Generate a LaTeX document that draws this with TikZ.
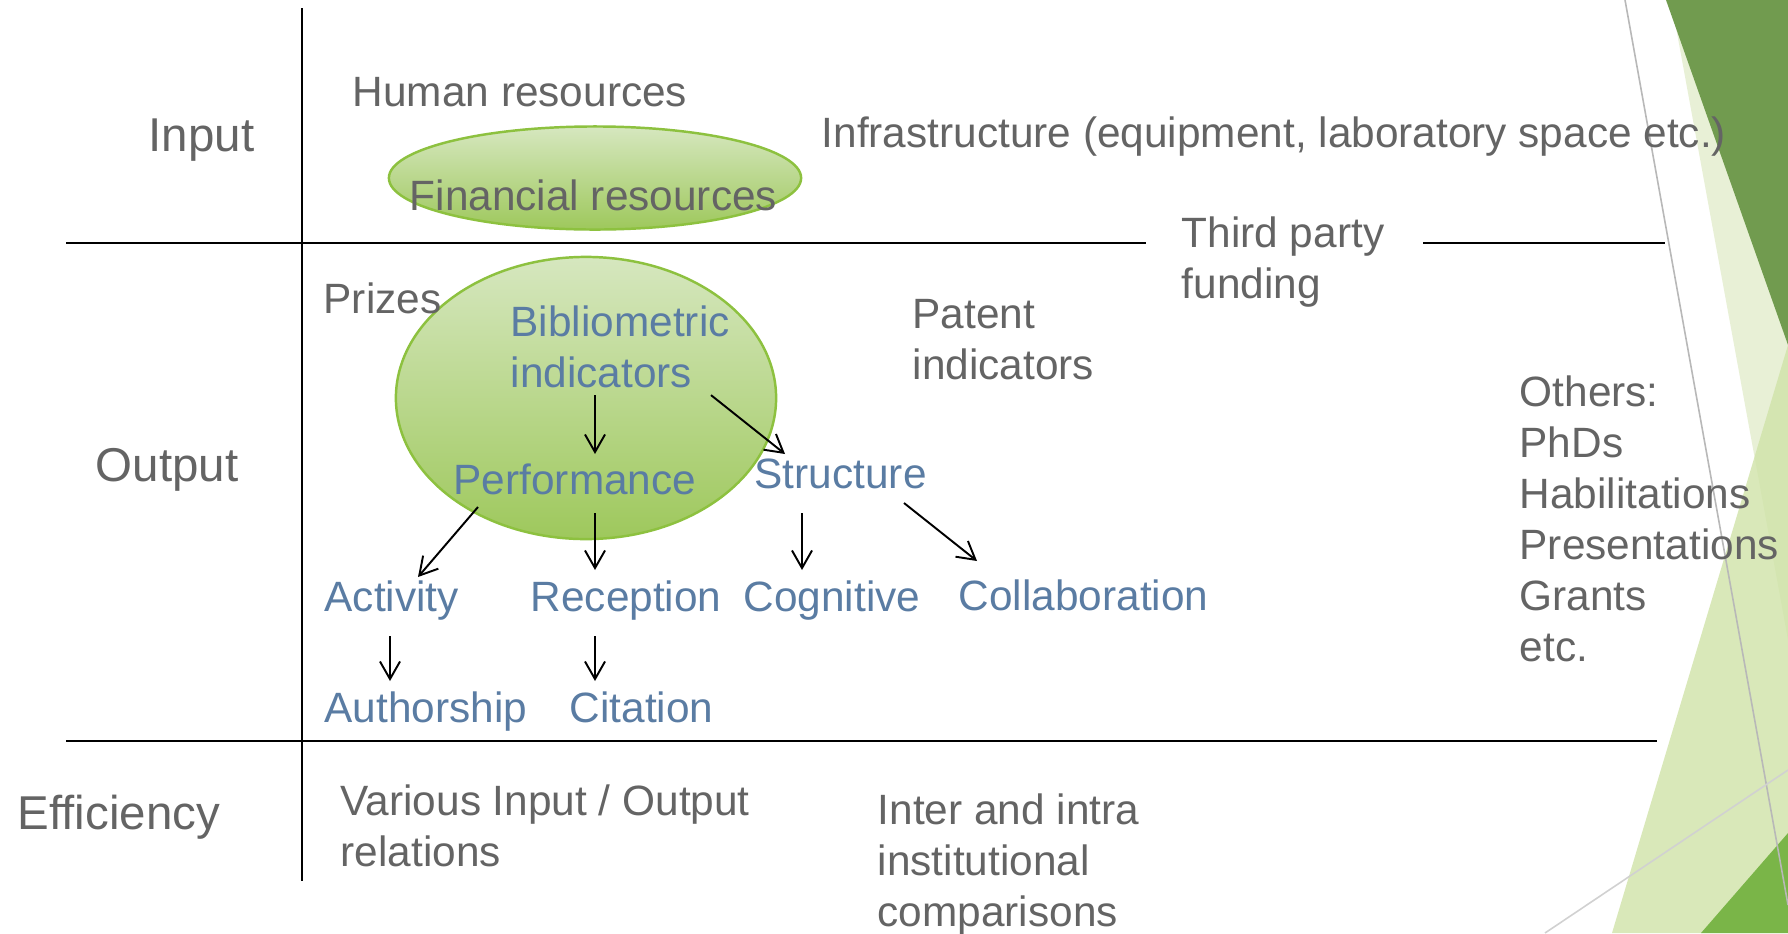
\documentclass[tikz,border=0pt]{standalone}
\usepackage{fontspec}
\setmainfont{Liberation Sans}
\usetikzlibrary{arrows.meta,positioning,calc}
\definecolor{txtgray}{RGB}{100,100,100}
\definecolor{indblue}{RGB}{90,124,163}
\definecolor{leafdark}{RGB}{113,155,79}
\definecolor{leafpale}{RGB}{232,240,214}
\definecolor{leaflight}{RGB}{208,227,168}
\definecolor{leafbright}{RGB}{122,181,72}
\definecolor{blobtop}{RGB}{214,231,191}
\definecolor{blobbot}{RGB}{158,200,92}
\definecolor{blobedge}{RGB}{141,193,63}
\tikzset{
  hdr/.style={font=\fontsize{13.5}{16}\selectfont, text=txtgray, inner sep=0pt, anchor=base west},
  lbl/.style={font=\fontsize{12.05}{14.46}\selectfont, text=txtgray, inner sep=0pt, anchor=base west, align=left},
  ind/.style={lbl, text=indblue},
  arr/.style={-{Straight Barb[length=5pt,width=5.7pt]}, line width=0.55pt},
  blob/.style={draw=blobedge, line width=0.7pt, top color=blobtop, bottom color=blobbot},
  rule/.style={line width=0.6pt},
}

\begin{document}
\begin{tikzpicture}[x=0.01cm, y=-0.01cm]
\fill[white] (0,0) rectangle (1788,933);
\useasboundingbox (0,0) rectangle (1788,933);
% facet corner
\fill[leafpale] (1671,0) -- (1788,0) -- (1788,640) -- cycle;
\fill[leafdark] (1666,0) -- (1788,0) -- (1788,345) -- cycle;
\fill[leaflight, opacity=0.8] (1788,345) -- (1612,933) -- (1788,933) -- cycle;
\fill[leafbright] (1701,933) -- (1788,833) -- (1788,933) -- cycle;
\draw[black!28, line width=0.45pt] (1625,0) -- (1788,905);
\draw[black!18, line width=0.45pt] (1545,933) -- (1788,770);

% table rules
\draw[rule] (302,8) -- (302,881);
\draw[rule] (66,243) -- (1146,243);
\draw[rule] (1423,243) -- (1665,243);
\draw[rule] (66,741) -- (1657,741);

% ellipses
\path[blob] (595,178) ellipse [x radius=2.06cm, y radius=0.515cm];
\path[blob] (586,398) ellipse [x radius=1.90cm, y radius=1.41cm];

\node[hdr] (inp) at (148,151) {Input};
\node[hdr] (outp) at (95,481) {Output};
\node[hdr] (eff) at (17,829) {Efficiency};

% multi-line texts sit on their last baseline
\node[lbl] (hum) at (352,106) {Human resources};
\node[lbl] (fin) at (409,210) {Financial resources};
\node[lbl] (infra) at (821,147) {Infrastructure (equipment, laboratory space etc.)};
\node[lbl] (third) at (1181,298) {Third party\\funding};
\node[lbl] (prz) at (323,313) {Prizes};
\node[ind] (bib) at (510,387) {Bibliometric\\indicators};
\node[lbl] (pat) at (912,379) {Patent\\indicators};
\node[ind] (perf) at (453,494) {Performance};
\node[ind] (struct) at (754,488) {Structure};
\node[ind] (act) at (324,611) {Activity};
\node[ind] (rec) at (530,611) {Reception};
\node[ind] (cog) at (743,611) {Cognitive};
\node[ind] (coll) at (958,610) {Collaboration};
\node[ind] (auth) at (324,722) {Authorship};
\node[ind] (cit) at (569,722) {Citation};
\node[lbl] (oth) at (1519,661) {Others:\\PhDs\\Habilitations\\Presentations\\Grants\\etc.};
\node[lbl] (rel) at (340,866) {Various Input / Output\\relations};
\node[lbl] (cmp) at (877,926) {Inter and intra\\institutional\\comparisons};

\draw[arr] ([shift={(85,7)}]bib.south west) -- ([shift={(142,-40)}]perf.base west);
\draw[arr] ([shift={(201,7)}]bib.south west) -- ([shift={(31,-34)}]struct.base west);
\draw[arr] ([shift={(25,13)}]perf.base west) -- ([shift={(94,-34)}]act.base west);
\draw[arr] ([shift={(142,19)}]perf.base west) -- ([shift={(65,-41)}]rec.base west);
\draw[arr] ([shift={(48,25)}]struct.base west) -- ([shift={(59,-41)}]cog.base west);
\draw[arr] ([shift={(150,15)}]struct.base west) -- ([shift={(19,-49)}]coll.base west);
\draw[arr] ([shift={(66,25)}]act.base west) -- ([shift={(66,-41)}]auth.base west);
\draw[arr] ([shift={(65,25)}]rec.base west) -- ([shift={(26,-41)}]cit.base west);
\end{tikzpicture}
\end{document}
